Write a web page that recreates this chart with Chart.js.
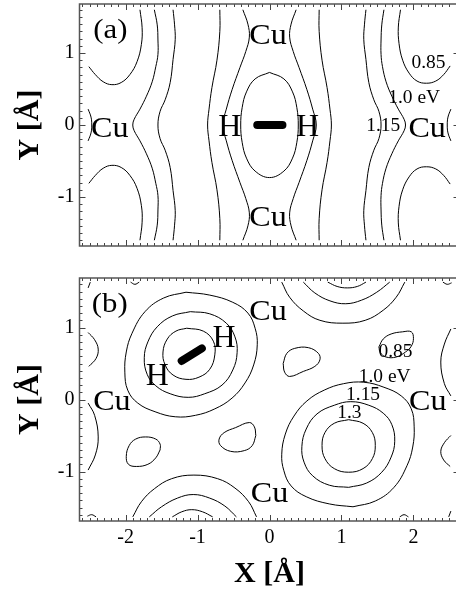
<!DOCTYPE html>
<html><head><meta charset="utf-8">
<script src="https://cdn.jsdelivr.net/npm/chart.js@4.4.1/dist/chart.umd.min.js"></script>
<style>
html,body{margin:0;padding:0;background:#fff;overflow:hidden;width:456px;height:593px;}
#ca{position:absolute;left:0;top:0;}
#cb{position:absolute;left:0;top:270px;}
</style></head><body>
<canvas id="ca" width="460" height="250"></canvas>
<canvas id="cb" width="460" height="323"></canvas>
<script>
// ---------- tick labels ----------
const xTickValues = [-2, -1, 0, 1, 2];
const yTickValues = [-1, 0, 1];

// ---------- panel (a) contour lines, [X, Y] in Å ----------
const a085TopLeft = [[-2.51,0.81],[-2.42,0.70],[-2.31,0.60],[-2.19,0.56],[-2.06,0.59],[-1.94,0.70],[-1.84,0.88],[-1.78,1.12],[-1.77,1.35],[-1.80,1.60]];
const a085BotLeft = [[-2.51,-0.81],[-2.42,-0.70],[-2.31,-0.60],[-2.19,-0.56],[-2.06,-0.59],[-1.94,-0.70],[-1.84,-0.88],[-1.78,-1.12],[-1.77,-1.35],[-1.80,-1.60]];
const a085TopRight = [[2.51,0.82],[2.42,0.70],[2.31,0.61],[2.18,0.58],[2.05,0.61],[1.94,0.72],[1.85,0.90],[1.80,1.13],[1.79,1.36],[1.82,1.60]];
const a085BotRight = [[2.51,-0.82],[2.42,-0.70],[2.31,-0.61],[2.18,-0.58],[2.05,-0.61],[1.94,-0.72],[1.85,-0.90],[1.80,-1.13],[1.79,-1.36],[1.82,-1.60]];
const a100Left = [[-1.60,1.60],[-1.56,1.39],[-1.55,1.18],[-1.55,0.98],[-1.58,0.81],[-1.63,0.60],[-1.71,0.40],[-1.80,0.22],[-1.88,0.08],[-1.90,0],[-1.88,-0.08],[-1.80,-0.22],[-1.71,-0.40],[-1.63,-0.60],[-1.58,-0.81],[-1.55,-0.98],[-1.55,-1.18],[-1.56,-1.39],[-1.60,-1.60]];
const a100Right = [[1.59,1.60],[1.56,1.39],[1.55,1.18],[1.55,0.98],[1.57,0.81],[1.62,0.60],[1.70,0.40],[1.79,0.22],[1.87,0.08],[1.89,0],[1.87,-0.08],[1.79,-0.22],[1.70,-0.40],[1.62,-0.60],[1.57,-0.81],[1.55,-0.98],[1.55,-1.18],[1.56,-1.39],[1.59,-1.60]];
const a115Left = [[-1.34,1.60],[-1.32,1.40],[-1.31,1.19],[-1.34,0.91],[-1.38,0.59],[-1.45,0.35],[-1.52,0.19],[-1.55,0],[-1.52,-0.19],[-1.45,-0.35],[-1.38,-0.59],[-1.34,-0.91],[-1.31,-1.19],[-1.32,-1.40],[-1.34,-1.60]];
const a115Right = [[1.34,1.60],[1.32,1.40],[1.31,1.19],[1.34,0.91],[1.38,0.59],[1.45,0.35],[1.52,0.19],[1.55,0],[1.52,-0.19],[1.45,-0.35],[1.38,-0.59],[1.34,-0.91],[1.31,-1.19],[1.32,-1.40],[1.34,-1.60]];
const a130Left = [[-0.69,1.60],[-0.69,1.30],[-0.73,0.90],[-0.80,0.52],[-0.84,0.22],[-0.86,0],[-0.84,-0.22],[-0.80,-0.52],[-0.73,-0.90],[-0.69,-1.30],[-0.69,-1.60]];
const a130Right = [[0.69,1.60],[0.69,1.30],[0.73,0.90],[0.80,0.52],[0.84,0.22],[0.86,0],[0.84,-0.22],[0.80,-0.52],[0.73,-0.90],[0.69,-1.30],[0.69,-1.60]];
const a145Left = [[-0.37,1.60],[-0.30,1.40],[-0.28,1.22],[-0.33,1.02],[-0.41,0.80],[-0.52,0.49],[-0.60,0.22],[-0.65,0],[-0.60,-0.22],[-0.52,-0.49],[-0.41,-0.80],[-0.33,-1.02],[-0.28,-1.22],[-0.30,-1.40],[-0.37,-1.60]];
const a145Right = [[0.37,1.60],[0.30,1.40],[0.28,1.22],[0.33,1.02],[0.41,0.80],[0.52,0.49],[0.60,0.22],[0.65,0],[0.60,-0.22],[0.52,-0.49],[0.41,-0.80],[0.33,-1.02],[0.28,-1.22],[0.30,-1.40],[0.37,-1.60]];
const aInner = [[0,0.73],[0.20,0.64],[0.32,0.46],[0.38,0.24],[0.40,0],[0.38,-0.24],[0.32,-0.46],[0.20,-0.64],[0,-0.73],[-0.20,-0.64],[-0.32,-0.46],[-0.38,-0.24],[-0.40,0],[-0.38,0.24],[-0.32,0.46],[-0.20,0.64],[0,0.73]];
const aEdgeLeft = [[-2.52,0.22],[-2.48,0.11],[-2.47,0],[-2.48,-0.11],[-2.52,-0.22]];
const aEdgeRight = [[2.52,0.22],[2.48,0.11],[2.47,0],[2.48,-0.11],[2.52,-0.22]];
const aMolecule = [[-0.17,0],[0.18,0]];

// ---------- panel (b) contour lines, [X, Y] in Å ----------
const b100TL = [[-1.16,1.49],[-0.83,1.45],[-0.51,1.35],[-0.30,1.20],[-0.20,0.99],[-0.17,0.76],[-0.22,0.48],[-0.34,0.23],[-0.52,0.02],[-0.76,-0.13],[-1.03,-0.22],[-1.31,-0.24],[-1.59,-0.17],[-1.83,-0.05],[-1.97,0.13],[-2.01,0.38],[-1.99,0.66],[-1.91,0.92],[-1.73,1.22],[-1.47,1.41],[-1.16,1.49]];
const b115TL = [[-1.10,1.22],[-0.83,1.19],[-0.60,1.06],[-0.48,0.87],[-0.45,0.65],[-0.51,0.41],[-0.66,0.20],[-0.90,0.08],[-1.13,0.03],[-1.38,0.08],[-1.58,0.19],[-1.70,0.35],[-1.74,0.58],[-1.69,0.80],[-1.56,1.01],[-1.35,1.16],[-1.10,1.22]];
const b130TL = [[-1.15,0.99],[-0.92,0.95],[-0.78,0.81],[-0.76,0.62],[-0.83,0.42],[-0.98,0.31],[-1.16,0.28],[-1.34,0.34],[-1.45,0.48],[-1.48,0.66],[-1.42,0.84],[-1.30,0.95],[-1.15,0.99]];
const b100BR = [[1.16,-1.49],[0.83,-1.45],[0.51,-1.35],[0.30,-1.20],[0.20,-0.99],[0.17,-0.76],[0.22,-0.48],[0.34,-0.23],[0.52,-0.02],[0.76,0.13],[1.03,0.22],[1.31,0.24],[1.59,0.17],[1.83,0.05],[1.97,-0.13],[2.01,-0.38],[1.99,-0.66],[1.91,-0.92],[1.73,-1.22],[1.47,-1.41],[1.16,-1.49]];
const b115BR = [[1.10,-1.22],[0.83,-1.19],[0.60,-1.06],[0.48,-0.87],[0.45,-0.65],[0.51,-0.41],[0.66,-0.20],[0.90,-0.08],[1.13,-0.03],[1.38,-0.08],[1.58,-0.19],[1.70,-0.35],[1.74,-0.58],[1.69,-0.80],[1.56,-1.01],[1.35,-1.16],[1.10,-1.22]];
const b130BR = [[1.10,-0.28],[1.30,-0.33],[1.43,-0.46],[1.47,-0.64],[1.43,-0.82],[1.30,-0.96],[1.10,-1.01],[0.90,-0.96],[0.77,-0.82],[0.73,-0.64],[0.77,-0.46],[0.90,-0.33],[1.10,-0.28]];
const b100Top = [[0.17,1.63],[0.28,1.42],[0.47,1.23],[0.70,1.10],[1.02,1.06],[1.33,1.10],[1.58,1.24],[1.76,1.42],[1.88,1.63]];
const b115Top = [[0.47,1.63],[0.63,1.48],[0.84,1.37],[1.06,1.33],[1.28,1.38],[1.49,1.49],[1.67,1.63]];
const b130Top = [[0.81,1.63],[0.94,1.57],[1.08,1.55],[1.22,1.57],[1.34,1.63]];
const b100Bot = [[-0.18,-1.63],[-0.29,-1.42],[-0.48,-1.23],[-0.72,-1.10],[-1.05,-1.05],[-1.36,-1.10],[-1.60,-1.24],[-1.78,-1.42],[-1.90,-1.63]];
const b115Bot = [[-0.46,-1.63],[-0.62,-1.48],[-0.83,-1.37],[-1.06,-1.32],[-1.28,-1.37],[-1.50,-1.49],[-1.67,-1.63]];
const b130Bot = [[-0.79,-1.63],[-0.93,-1.56],[-1.08,-1.53],[-1.22,-1.56],[-1.35,-1.63]];
const b085LoopUR = [[1.52,0.73],[1.58,0.84],[1.69,0.91],[1.85,0.94],[1.97,0.94],[2.00,0.85],[1.97,0.74],[1.89,0.66],[1.76,0.59],[1.62,0.59],[1.54,0.65],[1.52,0.73]];
const b085LoopLL = [[-1.52,-0.70],[-1.58,-0.81],[-1.69,-0.90],[-1.85,-0.93],[-1.96,-0.90],[-1.99,-0.79],[-1.95,-0.64],[-1.86,-0.55],[-1.72,-0.52],[-1.58,-0.55],[-1.52,-0.62],[-1.52,-0.70]];
const b085LoopMidUp = [[0.19,0.50],[0.24,0.64],[0.35,0.71],[0.54,0.72],[0.68,0.64],[0.70,0.55],[0.63,0.46],[0.47,0.39],[0.28,0.32],[0.21,0.38],[0.19,0.50]];
const b085LoopMidLow = [[-0.19,-0.50],[-0.24,-0.64],[-0.35,-0.71],[-0.54,-0.72],[-0.68,-0.64],[-0.70,-0.55],[-0.63,-0.46],[-0.47,-0.39],[-0.28,-0.32],[-0.21,-0.38],[-0.19,-0.50]];
const bEdgeL1 = [[-2.52,0.93],[-2.43,0.83],[-2.38,0.70],[-2.41,0.57],[-2.51,0.46]];
const bEdgeL2 = [[-2.52,-0.05],[-2.43,-0.22],[-2.38,-0.52],[-2.42,-0.77],[-2.52,-0.98]];
const bEdgeR1 = [[2.52,0.98],[2.43,0.77],[2.38,0.52],[2.43,0.22],[2.52,0.05]];
const bEdgeR2 = [[2.52,-0.50],[2.43,-0.60],[2.38,-0.72],[2.42,-0.84],[2.51,-0.93]];
const bCornerTL = [[-2.52,1.55],[-2.49,1.63]];
const bNubTop = [[-1.93,1.63],[-1.87,1.60],[-1.81,1.63]];
const bCornerTR = [[2.41,1.63],[2.47,1.60],[2.53,1.62]];
const bCornerBR = [[2.49,-1.63],[2.52,-1.55]];
const bNubBot = [[1.81,-1.63],[1.87,-1.60],[1.93,-1.63]];
const bCornerBL = [[-2.53,-1.62],[-2.47,-1.60],[-2.41,-1.63]];
const bMolecule = [[-1.22,0.535],[-0.94,0.71]];

// ---------- annotations: [text, X, Y(baseline)] in Å ----------
const aPanelLabel = ['(a)', -2.21, 1.21];
const bPanelLabel = ['(b)', -2.22, 1.22];
const aAtomLabels = [['Cu',-0.02,1.12],['Cu',-0.02,-1.40],['Cu',-2.22,-0.16],['Cu',2.19,-0.16]];
const bAtomLabels = [['Cu',-0.02,1.10],['Cu',-2.19,-0.15],['Cu',2.20,-0.15],['Cu',0.0,-1.42]];
const aHLabels = [['H',-0.55,-0.155],['H',0.53,-0.155]];
const bHLabels = [['H',-0.63,0.73],['H',-1.56,0.20]];
const aLevelLabels = [['0.85',2.21,0.79],['1.0 eV',2.01,0.31],['1.15',1.58,-0.09]];
const bLevelLabels = [['0.85',1.75,0.59],['1.0 eV',1.60,0.25],['1.15',1.30,0.00],['1.3',1.11,-0.25]];

// ---------- drawing ----------
const FONT = '"Liberation Serif", "Times New Roman", serif';
Chart.defaults.color = '#000';

function lineDs(arr, width) {
  return {
    data: arr.map(p => ({x: p[0], y: p[1]})),
    showLine: true, borderColor: '#000', backgroundColor: '#000',
    borderWidth: width || 1, pointRadius: 0, tension: 0.4, fill: false
  };
}
function molDs(arr) {
  const d = lineDs(arr, 8);
  d.tension = 0; d.borderCapStyle = 'round';
  return d;
}

const framePlugin = {
  id: 'frame',
  afterDatasetsDraw(chart) {
    const {ctx, chartArea: a, scales: {x, y}} = chart;
    ctx.save();
    ctx.strokeStyle = '#444';
    ctx.lineWidth = 1;
    ctx.beginPath();
    for (let i = -26; i <= 26; i++) {
      const px = Math.round(x.getPixelForValue(i / 10)) + 0.5;
      const len = (i % 10 === 0) ? 6 : 3;
      ctx.moveTo(px, a.bottom); ctx.lineTo(px, a.bottom - len);
      ctx.moveTo(px, a.top); ctx.lineTo(px, a.top + len);
    }
    for (let j = -16; j <= 16; j++) {
      const py = Math.round(y.getPixelForValue(j / 10)) + 0.5;
      const len = (j % 10 === 0) ? 6 : 3;
      ctx.moveTo(a.left, py); ctx.lineTo(a.left + len, py);
      ctx.moveTo(a.right, py); ctx.lineTo(a.right - len, py);
    }
    ctx.stroke();
    ctx.lineWidth = 1.5;
    ctx.strokeStyle = '#555';
    ctx.strokeRect(a.left, a.top, a.right - a.left, a.bottom - a.top);
    ctx.restore();
  }
};

function textPlugin(groups) {
  return {
    id: 'texts',
    afterDatasetsDraw(chart) {
      const {ctx, scales: {x, y}} = chart;
      ctx.save();
      ctx.fillStyle = '#000';
      ctx.textAlign = 'center';
      ctx.textBaseline = 'alphabetic';
      groups.forEach(g => {
        ctx.font = g.size + 'px ' + FONT;
        g.items.forEach(t => {
          const px = x.getPixelForValue(t[1]);
          const py = y.getPixelForValue(t[2]);
          ctx.save();
          ctx.translate(px, py);
          ctx.scale(g.sx, 1);
          ctx.fillText(t[0], 0, 0);
          ctx.restore();
        });
      });
      ctx.restore();
    }
  };
}

function makeChart(id, datasets, cfg) {
  return new Chart(document.getElementById(id), {
    type: 'scatter',
    data: {datasets},
    options: {
      responsive: false, animation: false, events: [], devicePixelRatio: 1,
      layout: {padding: {left: 0, right: 0.5, top: cfg.padTop, bottom: cfg.padBottom}},
      plugins: {legend: {display: false}, tooltip: {enabled: false}},
      scales: {
        x: {
          type: 'linear', min: -2.64, max: 2.64, display: cfg.showX,
          afterBuildTicks: s => { s.ticks = xTickValues.map(v => ({value: v})); },
          afterFit: s => { s.height = cfg.showX ? 72 : 0; s.paddingLeft = 0; s.paddingRight = 0; s.paddingTop = 0; s.paddingBottom = 0; },
          grid: {display: false, drawTicks: false}, border: {display: false},
          ticks: {font: {family: FONT, size: 20}, color: '#000', padding: 5, maxRotation: 0, autoSkip: false, callback: v => String(v)},
          title: {display: true, text: 'X [Å]', color: '#000', font: {family: FONT, size: 30, weight: 'bold'}, padding: {top: 0, bottom: 1}}
        },
        y: {
          type: 'linear', min: -cfg.yLim, max: cfg.yLim,
          afterBuildTicks: s => { s.ticks = yTickValues.map(v => ({value: v})); },
          afterFit: s => { s.width = 79.5; s.paddingTop = 0; s.paddingBottom = 0; s.paddingLeft = 0; s.paddingRight = 0; },
          grid: {display: false, drawTicks: false}, border: {display: false},
          ticks: {font: {family: FONT, size: 20}, color: '#000', padding: 5, autoSkip: false, callback: v => String(v)},
          title: {display: true, text: 'Y [Å]', color: '#000', font: {family: FONT, size: 30, weight: 'bold'}, padding: {top: 12, bottom: 0}}
        }
      }
    },
    plugins: [framePlugin, textPlugin(cfg.texts)]
  });
}

const aSets = [a085TopLeft, a085BotLeft, a085TopRight, a085BotRight, a100Left, a100Right, a115Left, a115Right,
  a130Left, a130Right, a145Left, a145Right, aInner, aEdgeLeft, aEdgeRight].map(c => lineDs(c));
aSets.push(molDs(aMolecule));

const bSets = [b100TL, b115TL, b130TL, b100BR, b115BR, b130BR, b100Top, b115Top, b130Top, b100Bot, b115Bot, b130Bot,
  b085LoopUR, b085LoopLL, b085LoopMidUp, b085LoopMidLow, bEdgeL1, bEdgeL2, bEdgeR1, bEdgeR2,
  bCornerTL, bNubTop, bCornerTR, bCornerBR, bNubBot, bCornerBL].map(c => lineDs(c));
bSets.push(molDs(bMolecule));

makeChart('ca', aSets, {
  padTop: 4, padBottom: 4, showX: false, yLim: 1.68,
  texts: [
    {size: 28, sx: 1.1, items: [aPanelLabel]},
    {size: 30, sx: 1.07, items: aAtomLabels},
    {size: 32, sx: 1.0, items: aHLabels},
    {size: 18, sx: 1.08, items: aLevelLabels}
  ]
});
makeChart('cb', bSets, {
  padTop: 8, padBottom: 0, showX: true, yLim: 1.6875,
  texts: [
    {size: 28, sx: 1.1, items: [bPanelLabel]},
    {size: 30, sx: 1.07, items: bAtomLabels},
    {size: 32, sx: 1.0, items: bHLabels},
    {size: 18, sx: 1.08, items: bLevelLabels}
  ]
});
</script>
</body></html>
